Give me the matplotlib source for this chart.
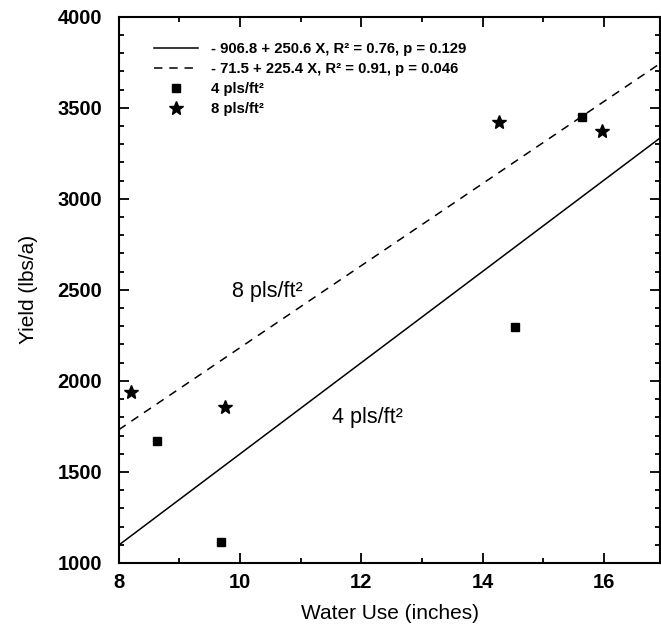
import matplotlib
matplotlib.use('Agg')
import matplotlib.pyplot as plt
from matplotlib.ticker import MultipleLocator
import numpy as np

plt.rcParams['font.family'] = ['Liberation Sans', 'DejaVu Sans']

# water use (inches) and yield (lbs/a)
water_4pls = [8.63, 9.69, 14.54, 15.63]
yield_4pls = [1672, 1114, 2295, 3447]
water_8pls = [8.21, 9.76, 14.27, 15.97]
yield_8pls = [1940, 1855, 3420, 3372]

# regression coefficients (intercept, slope) from the legend
fit_4pls = (-906.8, 250.6)
fit_8pls = (-71.5, 225.4)
label_4pls = '- 906.8 + 250.6 X, R² = 0.76, p = 0.129'
label_8pls = '- 71.5 + 225.4 X, R² = 0.91, p = 0.046'

x_min, x_max = 8, 16.93
y_min, y_max = 1000, 4000

fig = plt.figure(figsize=(6.61, 6.31), dpi=100)
ax = fig.add_axes([118.7/661, (631-563)/631, (660.5-118.7)/661, (563-16.7)/631])

xs = np.array([x_min, x_max])
ax.plot(xs, fit_4pls[0] + fit_4pls[1]*xs, color='black', lw=1.1, label=label_4pls)
ax.plot(xs, fit_8pls[0] + fit_8pls[1]*xs, color='black', lw=1.1, dashes=(5.5, 4.5), label=label_8pls)
ax.plot(water_4pls, yield_4pls, ls='none', marker='s', ms=6, color='black', label='4 pls/ft²')
ax.plot(water_8pls, yield_8pls, ls='none', marker='*', ms=10, color='black', label='8 pls/ft²')

ax.text(9.86, 2462, '8 pls/ft²', fontsize=15.5, va='baseline', ha='left')
ax.text(11.51, 1767, '4 pls/ft²', fontsize=15.5, va='baseline', ha='left')

ax.set_xlim(x_min, x_max)
ax.set_ylim(y_min, y_max)
ax.xaxis.set_major_locator(MultipleLocator(2))
ax.xaxis.set_minor_locator(MultipleLocator(1))
ax.yaxis.set_major_locator(MultipleLocator(500))
ax.yaxis.set_minor_locator(MultipleLocator(100))
ax.tick_params(which='both', direction='in', top=True, right=True, width=1.3)
ax.tick_params(which='major', length=7)
ax.tick_params(which='minor', length=3.8)
ax.tick_params(axis='x', pad=7)
ax.tick_params(axis='y', pad=12)
for lab in ax.get_xticklabels() + ax.get_yticklabels():
    lab.set_fontsize(14.5)
    lab.set_fontweight('bold')
for sp in ax.spines.values():
    sp.set_linewidth(1.5)

ax.set_xlabel('Water Use (inches)', fontsize=15, labelpad=9)
ax.set_ylabel('Yield (lbs/a)', fontsize=15, labelpad=14)

leg = ax.legend(loc='upper left', bbox_to_anchor=(0.066, 0.953), frameon=False,
                borderpad=0, borderaxespad=0, handlelength=2.9, handletextpad=0.9,
                labelspacing=0.4, prop={'size': 10.7, 'weight': 'bold'})

fig.savefig('out.png', dpi=100)
